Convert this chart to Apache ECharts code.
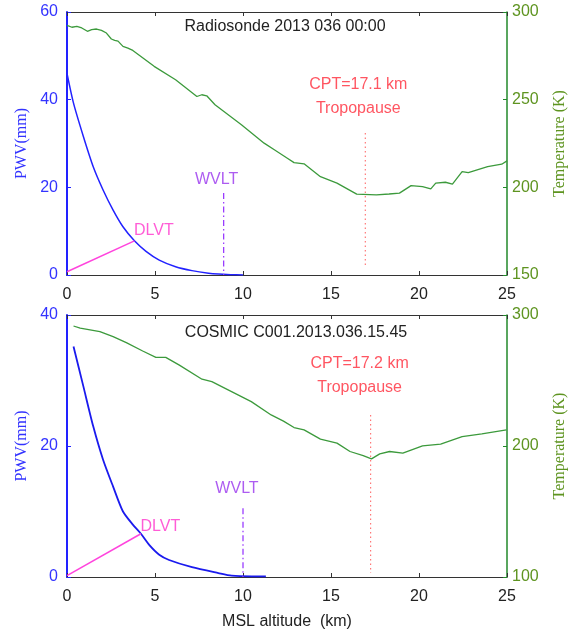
<!DOCTYPE html>
<html>
<head>
<meta charset="utf-8">
<script src="https://cdn.jsdelivr.net/npm/echarts@6/dist/echarts.min.js"></script>
<style>html,body{margin:0;padding:0;background:#fff}#c{width:576px;height:633px}</style>
</head>
<body>
<div id="c"></div>
<script>
// ---------- data ----------
const xTicks = [0, 5, 10, 15, 20, 25];
// Radiosonde 2013 036 00:00 (top panel)
const rsPwvAlt = [0, 0.37, 0.93, 1.49, 2.05, 2.62, 3.18, 3.83, 4.49, 5.24, 6.17, 7.1, 8.04, 8.6, 9.3, 10.0];
const rsPwv    = [46.0, 39.2, 31.6, 24.7, 19.4, 14.8, 11.0, 7.8, 5.4, 3.4, 1.9, 1.0, 0.4, 0.2, 0.08, 0];
const rsTAlt = [0, 0.28, 0.56, 0.84, 1.16, 1.4, 1.68, 1.96, 2.24, 2.52, 2.71, 2.9, 3.18, 3.46, 3.74, 4.95, 6.17, 7.38, 7.66, 7.94, 8.41, 9.91, 11.2, 11.78, 12.52, 12.9, 13.47, 14.4, 15.34, 16.46, 17.58, 18.3, 18.89, 19.55, 20.2, 20.67, 20.95, 21.5, 21.9, 22.45, 22.8, 23.9, 24.7, 25];
const rsTemp = [292.4, 291.3, 291.8, 290.9, 289, 289.9, 290.3, 289.5, 288, 284.6, 283.8, 283.4, 280.4, 279.4, 278.1, 269, 261.4, 251.8, 252.8, 252.2, 247.1, 235.7, 225.2, 221.4, 216.6, 214.1, 213.4, 206.1, 202.4, 196.1, 195.7, 196.2, 196.7, 201, 200.4, 199.1, 202.4, 202.9, 201.8, 209, 208.4, 211.8, 213.2, 215.1];
const rsWvlt = [[8.9, 18.7], [8.9, 0]];
const rsDlvt = [[0, 0.75], [3.83, 7.8]];
const rsCpt  = [[16.95, 231], [16.95, 155.7]];
const rsTitle = 'Radiosonde 2013 036 00:00';
const rsCptText = 'CPT=17.1 km';

// COSMIC C001.2013.036.15.45 (bottom panel)
const coPwvAlt = [0.37, 0.93, 1.49, 2.05, 2.62, 3.18, 3.74, 4.2, 4.67, 5.24, 5.8, 7.1, 8.6, 9.35, 10.5, 11.3];
const coPwv    = [35.2, 29.1, 23.0, 17.9, 13.8, 10.0, 8.0, 6.6, 4.9, 3.4, 2.6, 1.5, 0.6, 0.2, 0.1, 0.1];
const coTAlt = [0.37, 0.75, 1.87, 2.62, 3.37, 4.3, 5.05, 5.61, 6.36, 7.67, 8.23, 9.35, 10.47, 11.6, 12.3, 12.9, 13.47, 14.4, 15.34, 16.08, 16.83, 17.3, 17.77, 18.33, 19.08, 20.2, 21.23, 22.45, 23.57, 24.97];
const coTemp = [291.6, 289.9, 287.3, 283.5, 278.9, 272.5, 267.7, 267.7, 261.9, 251, 249.1, 241.5, 233.9, 223.7, 219, 214.1, 212.3, 205.2, 202.2, 195.8, 192.7, 190.2, 194, 195.8, 194.5, 200.1, 201.4, 207.2, 209.3, 212.3];
const coWvlt = [[10.0, 10.5], [10.0, 0]];
const coDlvt = [[0, 0.2], [4.2, 6.6]];
const coCpt  = [[17.25, 223.7], [17.25, 103]];
const coTitle = 'COSMIC C001.2013.036.15.45';
const coCptText = 'CPT=17.2 km';

// ---------- styles ----------
const F = 'Liberation Sans, Arial, sans-serif';
const SERIF = 'Liberation Serif, Times New Roman, serif';
const BLUE = '#2222ff', BLUE_TXT = '#3333ff';
const GREEN_AX = '#22882a', GREEN_TXT = '#5e9420', GREEN_LINE = '#3c9a3c';
const DARK = '#333333';

function zip(a, b) { return a.map((v, i) => [v, b[i]]); }

function xAx(grid, pos, showLabel, name) {
  return {
    type: 'value', gridIndex: grid, position: pos, min: 0, max: 25, interval: 5,
    axisLine: { onZero: false, lineStyle: { color: DARK, width: 1 } },
    axisTick: { inside: true, length: 4, lineStyle: { color: DARK } },
    axisLabel: { show: showLabel, margin: 12, fontSize: 16, color: '#222', fontFamily: F },
    splitLine: { show: false },
    name: name || '', nameLocation: 'middle', nameGap: 37,
    nameTextStyle: { fontSize: 16, color: '#222', fontFamily: F }
  };
}
function yLeft(grid, max) {
  return {
    type: 'value', gridIndex: grid, position: 'left', min: 0, max: max, interval: 20,
    axisLine: { show: true, onZero: false, lineStyle: { color: BLUE, width: 2 } },
    axisTick: { show: true, inside: true, length: 4, lineStyle: { color: BLUE } },
    axisLabel: { margin: 9, fontSize: 16, color: BLUE_TXT, fontFamily: F },
    splitLine: { show: false },
    name: 'PWV(mm)', nameLocation: 'middle', nameGap: 34,
    nameTextStyle: { fontSize: 16, color: BLUE_TXT, fontFamily: SERIF }
  };
}
function yRight(grid, min, interval) {
  return {
    type: 'value', gridIndex: grid, position: 'right', min: min, max: 300, interval: interval,
    axisLine: { show: true, onZero: false, lineStyle: { color: GREEN_AX, width: 1.5 } },
    axisTick: { show: true, inside: true, length: 4, lineStyle: { color: GREEN_AX } },
    axisLabel: { margin: 5, fontSize: 16, color: GREEN_TXT, fontFamily: F },
    splitLine: { show: false },
    name: 'Temperature (K)', nameLocation: 'middle', nameGap: 45,
    nameTextStyle: { fontSize: 16, color: GREEN_TXT, fontFamily: SERIF }
  };
}
function line(xi, yi, data, color, width, type, smooth) {
  return {
    type: 'line', xAxisIndex: xi, yAxisIndex: yi, data: data, symbol: 'none',
    smooth: smooth || false, silent: true,
    lineStyle: { color: color, width: width, type: type || 'solid' }, z: 3
  };
}
function labelPt(xi, yi, pt, text, color, position, offset, lh) {
  return {
    type: 'scatter', xAxisIndex: xi, yAxisIndex: yi, silent: true,
    symbolSize: 1, itemStyle: { color: 'rgba(0,0,0,0)' }, z: 5,
    data: [{ value: pt, label: {
      show: true, formatter: text, position: position, offset: offset,
      color: color, fontSize: 16, fontFamily: F, lineHeight: lh || 24, align: 'center'
    } }]
  };
}

const MAG = '#ff44dd', MAG_TXT = '#ff33cc';
const PUR = '#9a3cff', PUR_TXT = '#9933ee';
const RED = '#ff7777', RED_TXT = '#ff2a3a';

const option = {
  animation: false,
  backgroundColor: '#fff',
  grid: [
    { left: 67, right: 64, top: 12, height: 263 },
    { left: 67, right: 64, top: 315, height: 262 }
  ],
  xAxis: [xAx(0, 'bottom', true), xAx(0, 'top', false), xAx(1, 'bottom', true, 'MSL altitude  (km)'), xAx(1, 'top', false)],
  yAxis: [yLeft(0, 60), yRight(0, 150, 50), yLeft(1, 40), yRight(1, 100, 100)],
  graphic: [
    { type: 'text', x: 285, y: 27, style: { text: rsTitle, fill: '#222', font: '16px ' + F, textAlign: 'center', textVerticalAlign: 'middle' } },
    { type: 'text', x: 296, y: 333, style: { text: coTitle, fill: '#222', font: '16px ' + F, textAlign: 'center', textVerticalAlign: 'middle' } }
  ],
  series: [
    // top panel
    line(0, 1, zip(rsTAlt, rsTemp), GREEN_LINE, 1.3),
    line(0, 0, zip(rsPwvAlt, rsPwv), BLUE, 1.5, null, 0.25),
    line(0, 0, rsDlvt, MAG, 1.5),
    line(0, 0, rsWvlt, PUR, 1.3, [6, 3, 1.5, 3]),
    line(0, 1, rsCpt, RED, 1.2, [1.5, 3]),
    labelPt(0, 0, rsDlvt[1], 'DLVT', MAG_TXT, 'right', [14, -10]),
    labelPt(0, 0, rsWvlt[0], 'WVLT', PUR_TXT, 'top', [-7, 4]),
    labelPt(0, 1, rsCpt[0], rsCptText + '\nTropopause', RED_TXT, 'top', [-7, -7]),
    // bottom panel
    line(2, 3, zip(coTAlt, coTemp), GREEN_LINE, 1.3),
    line(2, 2, zip(coPwvAlt, coPwv), '#1a1aee', 1.8, null, 0.25),
    line(2, 2, coDlvt, MAG, 1.5),
    line(2, 2, coWvlt, PUR, 1.3, [6, 3, 1.5, 3]),
    line(2, 3, coCpt, RED, 1.2, [1.5, 3]),
    labelPt(2, 2, coDlvt[1], 'DLVT', MAG_TXT, 'right', [14, -7]),
    labelPt(2, 2, coWvlt[0], 'WVLT', PUR_TXT, 'top', [-6, -2]),
    labelPt(2, 3, coCpt[0], coCptText + '\nTropopause', RED_TXT, 'top', [-11, -10])
  ]
};
const chart = echarts.init(document.getElementById('c'), null, { renderer: 'canvas' });
chart.setOption(option);
</script>
</body>
</html>
